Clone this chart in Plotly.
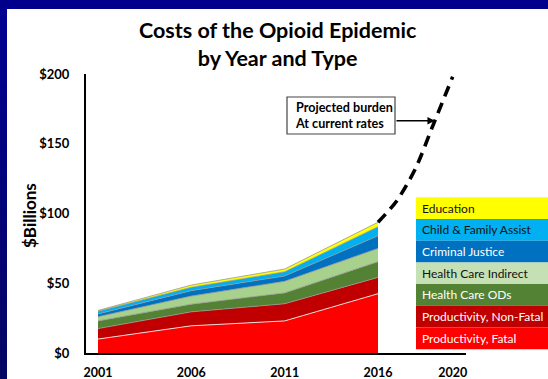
import plotly.graph_objects as go

# ---- data ($ billions) ----
years = [2001, 2006, 2011, 2016]
productivity_fatal = [10.0, 19.5, 23.0, 42.5]
productivity_nonfatal = [7.5, 10.0, 12.3, 11.7]
health_care_ods = [5.5, 5.5, 7.8, 11.3]
health_care_indirect = [3.0, 5.8, 8.3, 9.5]
criminal_justice = [2.0, 3.9, 3.8, 9.0]
child_family_assist = [2.0, 2.4, 3.0, 6.5]
education = [0.5, 1.6, 2.0, 3.2]

proj_years = [2016, 2017, 2018, 2019, 2020]
proj_values = [93.7, 109, 132, 165, 198]

x_ticks = [2001, 2006, 2011, 2016, 2020]
x_labels = ["2001", "2006", "2011", "2016", "2020"]
y_ticks = [0, 50, 100, 150, 200]
y_labels = ["$0", "$50", "$100", "$150", "$200"]

series_names = ["Productivity, Fatal", "Productivity, Non-Fatal", "Health Care ODs",
                "Health Care Indirect", "Criminal Justice", "Child & Family Assist",
                "Education"]
series_values = [productivity_fatal, productivity_nonfatal, health_care_ods,
                 health_care_indirect, criminal_justice, child_family_assist, education]
area_colors = ["#FF0000", "#C00000", "#548235", "#A9D18E", "#0070C0", "#00B0F0", "#FFFF00"]
key_colors = ["#FF0000", "#C00000", "#548235", "#C5E0B4", "#0070C0", "#00B0F0", "#FFFF00"]
key_text_colors = ["white", "white", "white", "#111111", "white", "#111111", "#111111"]
edge_colors = ["rgba(235,235,235,0.9)"] + ["rgba(150,150,150,0.8)"] * 6

FONT = "Lato"
W, H = 548, 379
# plot area in pixels
L, R, T, B = 86, 466, 74, 353


def fx(p):
    return (p - L) / (R - L)


def fy(p):
    return (B - p) / (B - T)


fig = go.Figure()

for name, vals, fc, lc in zip(series_names, series_values, area_colors, edge_colors):
    fig.add_trace(go.Scatter(
        x=years, y=vals, name=name, mode="lines", stackgroup="costs",
        line=dict(width=1, color=lc), fillcolor=fc, showlegend=False,
    ))

fig.add_trace(go.Scatter(
    x=proj_years, y=proj_values, mode="lines", showlegend=False,
    line=dict(color="black", width=3.6, dash="11px,7px", shape="spline", smoothing=0.8),
    cliponaxis=False,
))

shapes = []
# dark blue frame with gradient on the left edge
shapes.append(dict(type="rect", xref="paper", yref="paper", x0=fx(0), x1=fx(W),
                   y0=fy(0), y1=fy(9), fillcolor="#00008C", line=dict(width=0), layer="below"))
n_bands = 24
for i in range(n_bands):
    t = i / (n_bands - 1)
    r = int(0 + 6 * t)
    g = int(0 + 6 * t)
    b = int(145 - 45 * t)
    shapes.append(dict(type="rect", xref="paper", yref="paper", x0=fx(0), x1=fx(7),
                       y0=fy(9 + (H - 9) * i / n_bands), y1=fy(9 + (H - 9) * (i + 1) / n_bands + 1),
                       fillcolor=f"rgb({r},{g},{b})", line=dict(width=0), layer="below"))

# colour key boxes
key_left, key_right, key_top, key_h = 416, 549, 197.3, 21.7
annotations = []
for i, (name, kc, tc) in enumerate(zip(series_names[::-1], key_colors[::-1], key_text_colors[::-1])):
    top = key_top + i * key_h
    shapes.append(dict(type="rect", xref="paper", yref="paper",
                       x0=fx(key_left), x1=fx(key_right), y0=fy(top + key_h), y1=fy(top),
                       fillcolor=kc, line=dict(width=0), layer="above"))
    annotations.append(dict(xref="paper", yref="paper", x=fx(key_left + 4), y=fy(top + key_h / 2),
                            xanchor="left", yanchor="middle", showarrow=False, text=name,
                            font=dict(family=FONT, size=12, color=tc)))

# projection callout box
shapes.append(dict(type="rect", xref="paper", yref="paper", x0=fx(287), x1=fx(395),
                   y0=fy(134), y1=fy(97), fillcolor="white", line=dict(color="#444444", width=1.2),
                   layer="above"))
annotations.append(dict(xref="paper", yref="paper", x=fx(293), y=fy(115.5), xanchor="left",
                        yanchor="middle", showarrow=False, align="left",
                        text="<b>Projected burden</b><br><b>At current rates</b>",
                        font=dict(family=FONT, size=12.6, color="black")))
annotations.append(dict(x=2019.05, y=166.5, xref="x", yref="y", text="", showarrow=True,
                        ax=-40, ay=0, axref="pixel", ayref="pixel", arrowhead=2, arrowsize=1,
                        arrowwidth=1.5, arrowcolor="black", standoff=0))

# title and y-axis title
annotations.append(dict(xref="paper", yref="paper", x=fx(278), y=fy(44), xanchor="center",
                        yanchor="middle", showarrow=False,
                        text="<b>Costs of the Opioid Epidemic</b><br><b>by Year and Type</b>",
                        font=dict(family=FONT, size=21.5, color="black")))
annotations.append(dict(xref="paper", yref="paper", x=fx(30), y=fy(216), xanchor="center",
                        yanchor="middle", showarrow=False, textangle=-90,
                        text="<b>$Billions</b>", font=dict(family=FONT, size=17, color="black")))

fig.update_layout(
    width=W, height=H,
    margin=dict(l=L, r=W - R, t=T, b=H - B, pad=0, autoexpand=False),
    paper_bgcolor="white", plot_bgcolor="white",
    shapes=shapes, annotations=annotations, showlegend=False,
    xaxis=dict(range=[2001 - 12 / 18.667, 2016 + 88 / 18.667], tickvals=x_ticks, ticktext=x_labels,
               showgrid=False, zeroline=False, showline=True, linecolor="black", linewidth=2,
               ticks="", ticklabelstandoff=7, automargin=False,
               tickfont=dict(family=FONT, size=12.5, color="black", weight="bold")),
    yaxis=dict(range=[0, 200], tickvals=y_ticks, ticktext=y_labels, showgrid=False,
               zeroline=False, showline=True, linecolor="black", linewidth=2, ticks="",
               ticklabelstandoff=12, automargin=False,
               tickfont=dict(family=FONT, size=13, color="black", weight="bold")),
)

fig.write_html("out.html")
